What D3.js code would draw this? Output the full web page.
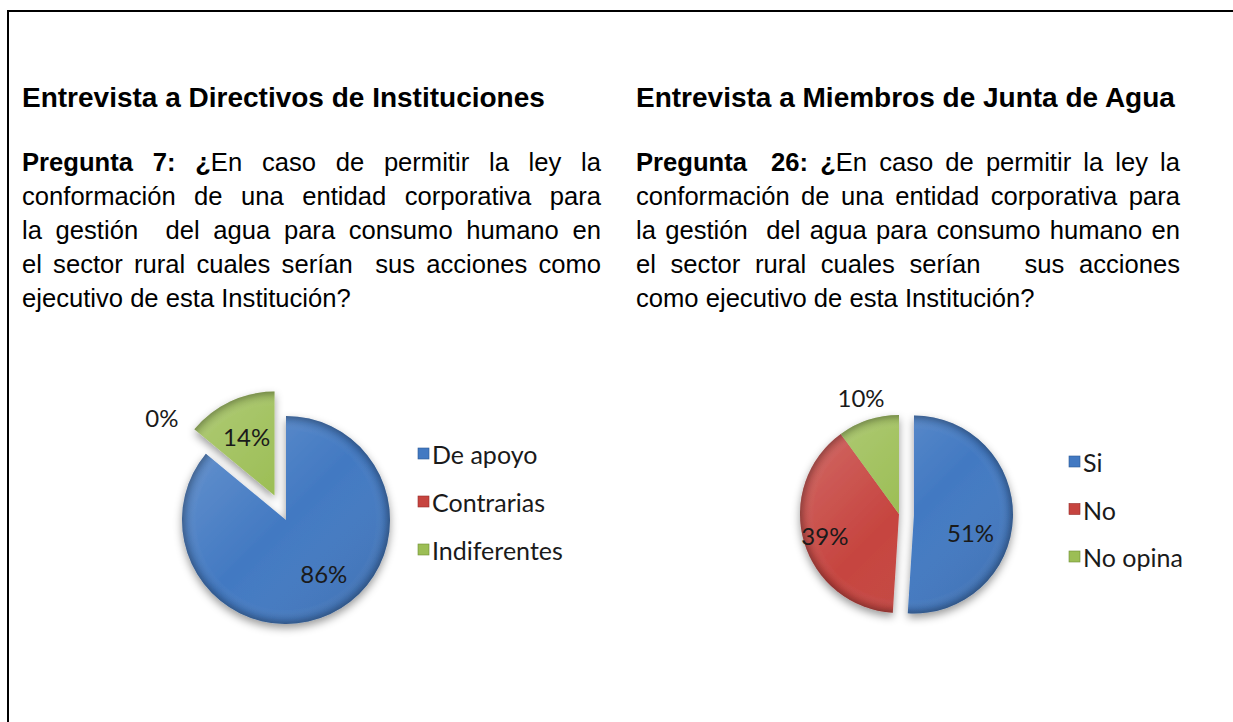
<!DOCTYPE html>
<html><head><meta charset="utf-8">
<script src="https://cdn.jsdelivr.net/npm/d3@7"></script>
<style>
html,body{margin:0;padding:0;background:#fff;}
svg{display:block;}
</style></head><body>
<script>
// ---------- data ----------
const leftCategories = ["De apoyo", "Contrarias", "Indiferentes"];
const leftValues = [86, 0, 14];
const rightCategories = ["Si", "No", "No opina"];
const rightValues = [51, 39, 10];
const headings = ["Entrevista a Directivos de Instituciones", "Entrevista a Miembros de Junta de Agua"];
// ** toggles bold
const leftLines = [
  "**Pregunta** **7:** **¿**En caso de permitir la ley la",
  "conformación de una entidad corporativa para",
  "la gestión  del agua para consumo humano en",
  "el sector rural cuales serían  sus acciones como",
  "ejecutivo de esta Institución?"
];
const rightLines = [
  "**Pregunta**  **26:** **¿**En caso de permitir la ley la",
  "conformación de una entidad corporativa para",
  "la gestión  del agua para consumo humano en",
  "el sector rural cuales serían   sus acciones",
  "como ejecutivo de esta Institución?"
];

// ---------- layout ----------
const W = 1233, H = 722;
const svg = d3.select("body").append("svg").attr("width", W).attr("height", H);
const defs = svg.append("defs");

// border (table cell top + left)
svg.append("line").attr("x1", 7).attr("x2", W).attr("y1", 11).attr("y2", 11)
  .attr("stroke", "#000").attr("stroke-width", 2);
svg.append("line").attr("x1", 8).attr("x2", 8).attr("y1", 10).attr("y2", H)
  .attr("stroke", "#000").attr("stroke-width", 2);

const bodyFont = "'Liberation Sans', Arial, sans-serif";
const bodySize = 25.6, headSize = 28;

const cols = [
  {x0: 22, x1: 601, head: headings[0], lines: leftLines},
  {x0: 636, x1: 1180, head: headings[1], lines: rightLines}
];

function parseToken(tok) {
  const segs = [];
  let bold = false;
  tok.split("**").forEach((s, i) => {
    if (i > 0) bold = !bold;
    if (s.length) segs.push({t: s, b: bold});
  });
  return segs;
}

const meas = svg.append("text").attr("font-family", bodyFont).attr("font-size", bodySize)
  .attr("visibility", "hidden");
function measure(segs) {
  meas.selectAll("tspan").remove();
  segs.forEach(s => meas.append("tspan").attr("font-weight", s.b ? "bold" : "normal").text(s.t));
  return segs.length ? meas.node().getComputedTextLength() : 0;
}

cols.forEach(c => {
  svg.append("text").attr("x", c.x0).attr("y", 107)
    .attr("font-family", bodyFont).attr("font-size", headSize).attr("font-weight", "bold")
    .attr("fill", "#000").text(c.head);
  c.lines.forEach((ln, li) => {
    const y = 171 + li * 34;
    const toks = ln.split(" ").map(parseToken);
    const widths = toks.map(measure);
    const total = d3.sum(widths);
    const last = li === c.lines.length - 1;
    const nGaps = toks.length - 1;
    const spaceW = measure([{t: "\u00a0", b: false}]);
    const gap = last ? spaceW : (c.x1 - c.x0 - total) / nGaps;
    const t = svg.append("text").attr("y", y).attr("font-family", bodyFont)
      .attr("font-size", bodySize).attr("fill", "#000");
    let x = c.x0;
    toks.forEach((segs, i) => {
      segs.forEach((s, j) => {
        const ts = t.append("tspan").attr("font-weight", s.b ? "bold" : "normal").text(s.t);
        if (j === 0) ts.attr("x", x);
      });
      x += widths[i] + gap;
    });
  });
});
meas.remove();

// ---------- pies ----------
const colors = ["#4279C2", "#C6443F", "#9CBE55"];
const darks = ["#2B5794", "#962D2A", "#6F8E35"];

const f = defs.append("filter").attr("id", "shadow").attr("x", "-30%").attr("y", "-30%")
  .attr("width", "160%").attr("height", "160%");
f.append("feDropShadow").attr("dx", 0).attr("dy", 4).attr("stdDeviation", 4)
  .attr("flood-color", "#000").attr("flood-opacity", 0.4);

function rimGradient(id, r) {
  const g = defs.append("radialGradient").attr("id", id).attr("gradientUnits", "userSpaceOnUse")
    .attr("cx", 0).attr("cy", 0).attr("r", r);
  g.append("stop").attr("offset", "0").attr("stop-color", "#fff").attr("stop-opacity", 0.0);
  g.append("stop").attr("offset", "0.86").attr("stop-color", "#fff").attr("stop-opacity", 0.0);
  g.append("stop").attr("offset", "0.95").attr("stop-color", "#000").attr("stop-opacity", 0.1);
  g.append("stop").attr("offset", "1").attr("stop-color", "#000").attr("stop-opacity", 0.28);
}
function lightGradient(id, r) {
  const g = defs.append("linearGradient").attr("id", id).attr("gradientUnits", "userSpaceOnUse")
    .attr("x1", -r).attr("y1", -r).attr("x2", r).attr("y2", r);
  g.append("stop").attr("offset", "0").attr("stop-color", "#fff").attr("stop-opacity", 0.22);
  g.append("stop").attr("offset", "0.5").attr("stop-color", "#fff").attr("stop-opacity", 0.0);
  g.append("stop").attr("offset", "1").attr("stop-color", "#000").attr("stop-opacity", 0.12);
}

const chartFont = "Lato, 'Open Sans', sans-serif";

function drawPie(opt) {
  const {cats, vals, cx, cy, r, explode, labelF, labelDA, legendX, legendY0, legendStep, id} = opt;
  rimGradient("rim" + id, r);
  lightGradient("lit" + id, r);
  const pie = d3.pie().sort(null).value(d => d)(vals);
  const arc = d3.arc().innerRadius(0).outerRadius(r);
  const g = svg.append("g").attr("transform", `translate(${cx},${cy})`);
  const sl = g.append("g").attr("filter", "url(#shadow)");
  pie.forEach((p, i) => {
    if (p.endAngle - p.startAngle <= 0) return;
    const mid = (p.startAngle + p.endAngle) / 2;
    const ox = Math.sin(mid) * explode[i], oy = -Math.cos(mid) * explode[i];
    const s = sl.append("g").attr("transform", `translate(${ox},${oy})`);
    s.append("path").attr("d", arc(p)).attr("fill", colors[i]);
    s.append("path").attr("d", arc(p)).attr("fill", `url(#lit${id})`);
    s.append("path").attr("d", arc(p)).attr("fill", `url(#rim${id})`);
  });
  pie.forEach((p, i) => {
    const mid = (p.startAngle + p.endAngle) / 2;
    const ox = Math.sin(mid) * explode[i], oy = -Math.cos(mid) * explode[i];
    const la = mid + labelDA[i] * Math.PI / 180;
    const lr = r * labelF[i];
    g.append("text").attr("x", ox + Math.sin(la) * lr).attr("y", oy - Math.cos(la) * lr)
      .attr("text-anchor", "middle").attr("dominant-baseline", "central")
      .attr("font-family", chartFont).attr("font-size", 24).attr("fill", "#1a1a1a")
      .text(d3.format(".0%")(vals[i] / d3.sum(vals)));
  });
  cats.forEach((c, i) => {
    const y = legendY0 + i * legendStep;
    svg.append("rect").attr("x", legendX).attr("y", y - 5).attr("width", 11).attr("height", 11)
      .attr("fill", colors[i]).attr("stroke", darks[i]).attr("stroke-width", 0.6);
    svg.append("text").attr("x", legendX + 14).attr("y", y + 1).attr("dominant-baseline", "central")
      .attr("font-family", chartFont).attr("font-size", 25).attr("fill", "#1a1a1a").text(c);
  });
}

drawPie({cats: leftCategories, vals: leftValues, cx: 286, cy: 520, r: 104,
  explode: [0, 0, 27], labelF: [0.63, 1.55, 0.63], labelDA: [-10, 0, 0],
  legendX: 418, legendY0: 453, legendStep: 48, id: "L"});
drawPie({cats: rightCategories, vals: rightValues, cx: 899, cy: 514, r: 99,
  explode: [15, 0, 0], labelF: [0.6, 0.78, 1.24], labelDA: [16, 0, 0],
  legendX: 1069, legendY0: 461, legendStep: 47.5, id: "R"});
</script>
</body></html>
